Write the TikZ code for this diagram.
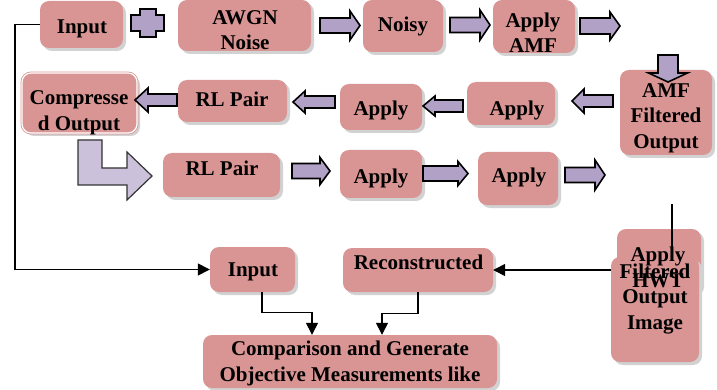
\documentclass[tikz,border=0pt]{standalone}
\usepackage{fontspec}
\setmainfont{Liberation Serif}
\usetikzlibrary{arrows.meta,shadows}
\definecolor{boxpink}{HTML}{D99594}
\definecolor{arrlav}{HTML}{B2A1C7}
\definecolor{arrlight}{HTML}{CCC1DA}
\definecolor{shad}{HTML}{D2D2D2}
% horizontal block arrow: tail x, tip x, centre y, shaft half, head half, head length (signed)
\newcommand{\harr}[6]{\filldraw[barrow] (#1,{#3-#4}) -- ({#2-(#6)},{#3-#4}) -- ({#2-(#6)},{#3-#5}) -- (#2,#3) -- ({#2-(#6)},{#3+#5}) -- ({#2-(#6)},{#3+#4}) -- (#1,{#3+#4}) -- cycle;}
% vertical block arrow: centre x, tail y, tip y, shaft half, head half, head length
\newcommand{\varr}[6]{\filldraw[barrow] ({#1-#4},#2) -- ({#1-#4},{#3-(#6)}) -- ({#1-#5},{#3-(#6)}) -- (#1,#3) -- ({#1+#5},{#3-(#6)}) -- ({#1+#4},{#3-(#6)}) -- ({#1+#4},#2) -- cycle;}
\begin{document}
\begin{tikzpicture}[x=1pt,y=-1pt,
  box/.style={rounded corners=9pt, fill=boxpink, draw=none, inner sep=0pt,
    drop shadow={shadow xshift=3pt,shadow yshift=-3pt,fill=shad,opacity=1}},
  txt/.style={font=\fontsize{21}{25.5}\selectfont\bfseries, align=center, inner sep=0pt, text=black},
  barrow/.style={fill=arrlav, draw=black, line width=1.6pt, line join=miter},
  conn/.style={draw=black, line width=1.4pt, -{Triangle[length=12pt,width=12pt]}},
  plain/.style={draw=black, line width=1.4pt}]
\useasboundingbox (0,0) rectangle (717,390);
% boxes
\node[box, minimum width=83pt, minimum height=47pt] (b-in1) at (81.5,24.5) {};
\node[box, minimum width=133pt, minimum height=51pt] (b-awgn) at (244.5,25.5) {};
\node[box, minimum width=80pt, minimum height=52pt] (b-noisy) at (403,26) {};
\node[box, minimum width=82pt, minimum height=53pt] (b-amf) at (534,26.5) {};
\node[box, minimum width=92pt, minimum height=85pt] (b-amfo) at (666,112.5) {};
\node[box, minimum width=88pt, minimum height=43pt] (b-ap2r) at (511,103.5) {};
\node[box, minimum width=82pt, minimum height=46pt] (b-ap2m) at (381,107) {};
\node[box, minimum width=109pt, minimum height=42pt] (b-rl2) at (232.5,101) {};
\node[box, minimum width=115pt, minimum height=60pt, draw=boxpink, double=white, line width=0.8pt, double distance=1.2pt] (b-comp) at (79.5,103) {};
\node[box, minimum width=117pt, minimum height=44pt] (b-rl3) at (221.5,175) {};
\node[box, minimum width=82pt, minimum height=48pt] (b-ap3l) at (381,174) {};
\node[box, minimum width=80pt, minimum height=53pt] (b-ap3r) at (518,178.5) {};
\node[box, minimum width=84pt, minimum height=64pt] (b-hwt) at (659,261) {};
\node[box, minimum width=88pt, minimum height=105pt] (b-fo) at (655,309.5) {};
\node[box, minimum width=150pt, minimum height=44pt] (b-rec) at (418,270) {};
\node[box, minimum width=85pt, minimum height=45pt] (b-in2) at (252.5,269.5) {};
\node[box, minimum width=294pt, minimum height=53pt] (b-cmp) at (350,361.5) {};
% texts
\node[txt] (t-in1) at (82,28.5) {Input};
\node[txt] (t-awgn) at (245,30) {AWGN\\Noise};
\node[txt] (t-noisy) at (403,26.5) {Noisy};
\node[txt] (t-amf) at (533,32.5) {Apply\\AMF};
\node[txt] (t-ap2r) at (517,110.5) {Apply};
\node[txt] (t-ap2m) at (381,110.5) {Apply};
\node[txt] (t-rl2) at (232,99.5) {RL Pair};
\node[txt] (t-comp) at (79,113) {Compresse\\d Output};
\node[txt] (t-rl3) at (222,168.5) {RL Pair};
\node[txt] (t-ap3l) at (381,178) {Apply};
\node[txt] (t-ap3r) at (519,177.5) {Apply};
\node[txt] (t-hwt) at (658,267.5) {Apply\\HWT};
\node[txt] (t-fo) at (655,299) {Filtered\\Output\\Image};
\node[txt] (t-rec) at (418.5,262.5) {Reconstructed};
\node[txt] (t-in2) at (253,272) {Input};
\node[txt] (t-cmp) at (350,363.5) {Comparison and Generate\\Objective Measurements like};
% block arrows
\filldraw[barrow] (140,9) -- (156,9) -- (156,15) -- (164,15) -- (164,31) -- (156,31) -- (156,37) -- (140,37) -- (140,31) -- (131,31) -- (131,15) -- (140,15) -- cycle;
\harr{320}{360}{25.5}{7.5}{14.5}{10}
\harr{450}{490}{25}{7.5}{15}{10}
\harr{580}{620}{26}{8}{14}{10}
\varr{668}{55}{82}{10}{19.5}{9}
\node[txt] (t-amfo) at (666,118) {AMF\\Filtered\\Output};
\harr{613}{572}{101}{6}{12}{-12}
\harr{463}{423}{106}{6}{10}{-12}
\harr{335}{293}{102}{6}{11}{-12}
\harr{177}{135}{100}{6}{12}{-13}
\harr{292}{330}{171}{7.5}{13.5}{10}
\harr{423}{468}{173.5}{7.5}{12}{10}
\harr{565}{605}{175}{7.5}{15}{10}
\filldraw[fill=arrlight, draw=black!80, line width=1.2pt] (78,140) -- (102,140) -- (102,168) -- (127,168) -- (127,152) -- (152,176) -- (127,200) -- (127,185) -- (78,185) -- cycle;
% connectors
\draw[conn] (b-in1.west) -- ++(-25,0) |- (b-in2.west);
\draw[conn] ([xshift=9.5pt]b-in2.south) -- ++(0,20) -| ([xshift=-38pt]b-cmp.north);
\draw[conn] (b-rec.south) -- ++(0,21) -| ([xshift=32pt]b-cmp.north);
\draw[conn] (b-rec.east -| b-fo.west) -- (b-rec.east);
\coordinate (v-top) at (672,204);
\coordinate (v-bot) at (672,255);
\draw[plain] (v-top) -- (v-bot);
\end{tikzpicture}
\end{document}
